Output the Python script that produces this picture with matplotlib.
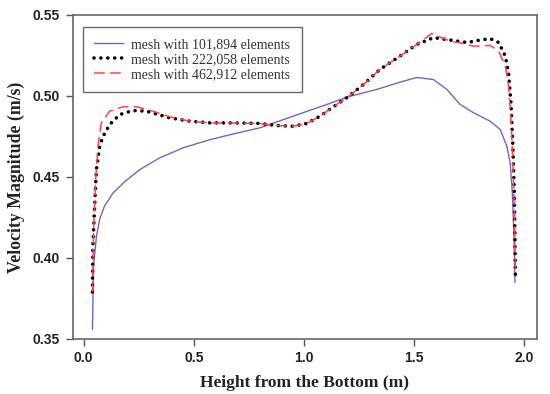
import numpy as np
import matplotlib
matplotlib.use('Agg')
from matplotlib import pyplot as plt

# mesh with 101,894 elements
x1 = [0.040, 0.045, 0.058, 0.073, 0.095, 0.133, 0.186, 0.255, 0.345, 0.452, 0.573, 0.694, 0.800,
      0.951, 1.103, 1.201, 1.330, 1.436, 1.512, 1.588, 1.649, 1.709, 1.770, 1.845, 1.891, 1.921,
      1.936, 1.946, 1.953, 1.958]
v1 = [0.356, 0.395, 0.413, 0.424, 0.432, 0.440, 0.447, 0.4545, 0.4617, 0.468, 0.473, 0.477, 0.4803,
      0.4875, 0.4947, 0.4995, 0.504, 0.5085, 0.5114, 0.5101, 0.504, 0.4947, 0.4896, 0.4844, 0.4793, 0.4689,
      0.4587, 0.440, 0.415, 0.385]

# mesh with 222,058 elements
x2 = [0.040, 0.042, 0.050, 0.058, 0.073, 0.088, 0.118, 0.164, 0.224, 0.285, 0.390, 0.482, 0.573,
      0.700, 0.800, 0.876, 0.951, 1.012, 1.073, 1.133, 1.201, 1.270, 1.345, 1.436, 1.512, 1.588,
      1.664, 1.740, 1.800, 1.845, 1.884, 1.914, 1.929, 1.940, 1.948, 1.955, 1.960]
v2 = [0.379, 0.407, 0.432, 0.4545, 0.469, 0.475, 0.4823, 0.4885, 0.491, 0.4906, 0.4865, 0.4844, 0.4834,
      0.4833, 0.483, 0.4817, 0.4813, 0.483, 0.4875, 0.4933, 0.4995, 0.5071, 0.5164, 0.5246, 0.5318, 0.536,
      0.5345, 0.533, 0.5345, 0.5354, 0.533, 0.5246, 0.514, 0.495, 0.470, 0.440, 0.388]

# mesh with 462,912 elements
x3 = [0.040, 0.045, 0.0545, 0.065, 0.080, 0.118, 0.179, 0.240, 0.315, 0.390, 0.482, 0.573, 0.700,
      0.800, 0.876, 0.951, 1.012, 1.073, 1.133, 1.201, 1.270, 1.345, 1.436, 1.512, 1.580, 1.664,
      1.724, 1.770, 1.845, 1.884, 1.914, 1.929, 1.940, 1.948, 1.955, 1.960]
v3 = [0.379, 0.417, 0.448, 0.469, 0.4834, 0.4906, 0.4933, 0.4933, 0.4906, 0.4871, 0.4844, 0.4834, 0.4832,
      0.483, 0.4817, 0.4813, 0.483, 0.4875, 0.4933, 0.4995, 0.5071, 0.5164, 0.5246, 0.5318, 0.5386, 0.5338,
      0.5324, 0.5307, 0.5312, 0.5277, 0.5184, 0.506, 0.485, 0.460, 0.430, 0.390]

labels = ['mesh with 101,894 elements', 'mesh with 222,058 elements', 'mesh with 462,912 elements']

fig = plt.figure(figsize=(5.5, 3.94), dpi=100)
ax = fig.add_axes([0.132, 0.14, 0.844, 0.822])

ax.plot(x1, v1, color='#7563c4', lw=1.0, label=labels[0])
ax.plot(x2, v2, color='black', lw=2.6, linestyle=(0, (0.01, 1.9)), dash_capstyle='round', label=labels[1])
ax.plot(x3, v3, color='#ff4545', lw=1.1, dashes=(7, 3.5), label=labels[2])

ax.set_xlim(-0.05, 2.057)
ax.set_ylim(0.35, 0.55)
ax.set_xticks([0.0, 0.5, 1.0, 1.5, 2.0])
ax.set_yticks([0.35, 0.40, 0.45, 0.50, 0.55])
ax.set_xticklabels(['0.0', '0.5', '1.0', '1.5', '2.0'])
ax.set_yticklabels(['0.35', '0.40', '0.45', '0.50', '0.55'])

for lab in ax.get_xticklabels() + ax.get_yticklabels():
    lab.set_fontfamily('Liberation Sans')
    lab.set_fontweight('bold')
    lab.set_fontsize(10)
    lab.set_color('#222222')

ax.tick_params(direction='out', length=5, width=1, color='#555555', pad=4)
for s in ax.spines.values():
    s.set_color('#666666')
    s.set_linewidth(1.2)

ax.set_xlabel('Height from the Bottom (m)', family='Liberation Serif', fontweight='bold', fontsize=12.5,
              color='#222222', labelpad=7)
ax.set_ylabel('Velocity Magnitude (m/s)', family='Liberation Serif', fontweight='bold', fontsize=12.8,
              color='#222222', labelpad=6)

leg = ax.legend(loc='upper left', bbox_to_anchor=(0.022, 0.963), prop={'family': 'Liberation Serif', 'size': 10},
                frameon=True, fancybox=False, handlelength=2.1, handletextpad=0.6, labelspacing=0.15,
                borderpad=0.8, borderaxespad=0)
leg.get_frame().set_edgecolor('#444444')
leg.get_frame().set_linewidth(1.0)
for t in leg.get_texts():
    t.set_color('#333333')

fig.savefig('out.png', dpi=100)
